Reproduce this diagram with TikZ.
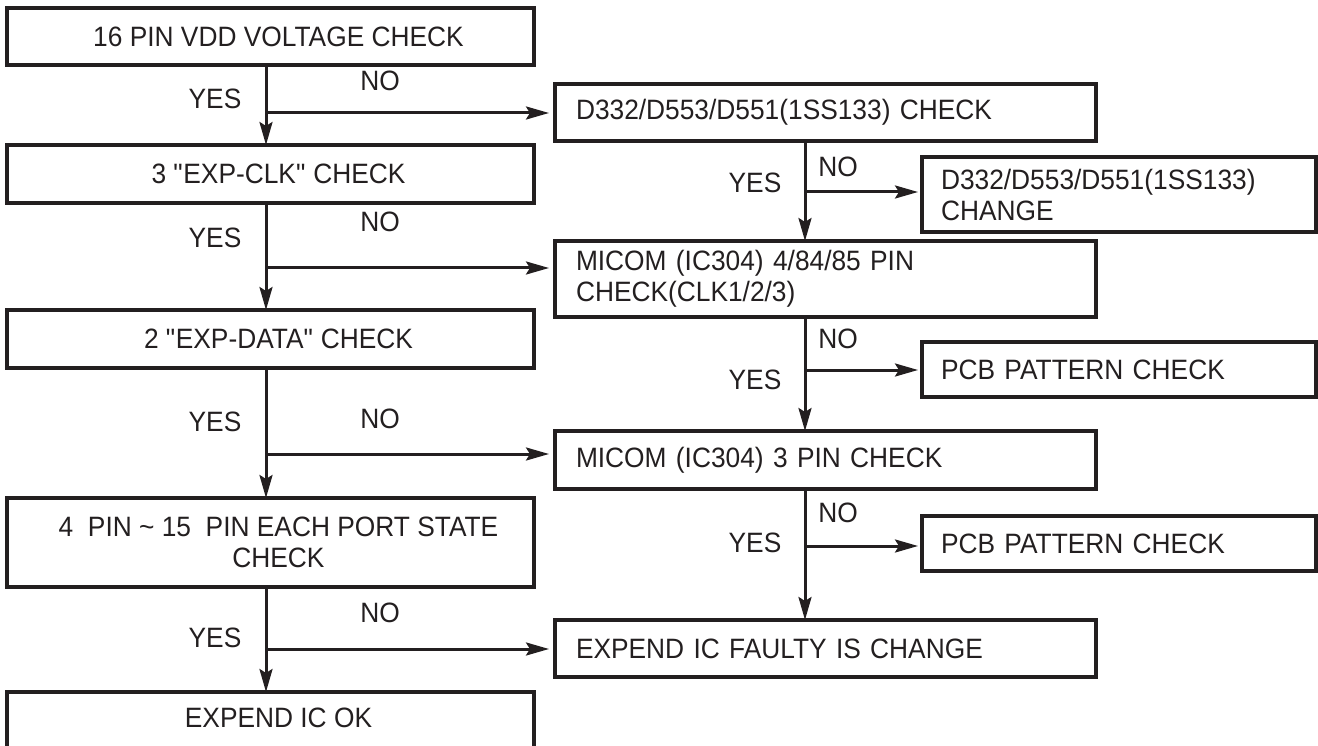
\documentclass[tikz,border=0pt]{standalone}
\usepackage{fontspec}
\setmainfont{Liberation Sans}[FakeStretch=0.94]
\usetikzlibrary{arrows.meta,calc}
\definecolor{ink}{HTML}{231F20}
\begin{document}
\begin{tikzpicture}[x=1pt,y=-1pt,
  every node/.style={font=\fontsize{28}{31}\selectfont, text=ink},
  box/.style={draw=ink, line width=3.4pt, inner sep=0pt, outer sep=0pt},
  lbox/.style={box, minimum width=527pt},
  rbox/.style={box, inner xsep=21pt, text width=499pt, align=left},
  fbox/.style={box, inner xsep=19pt, text width=356pt, align=left},
  arr/.style={draw=ink, line width=3pt, -{Stealth[length=23pt,width=13pt,inset=4pt]}},
  lab/.style={inner sep=0pt}
]
\useasboundingbox (0,0) rectangle (1318,746);

% left column
\node[lbox, minimum height=57pt, label={[xshift=8pt]center:16 PIN VDD VOLTAGE CHECK}] (B1) at (270.5,36.5) {};
\node[lbox, minimum height=58pt, label={[xshift=8pt]center:3 \textquotedbl EXP-CLK\textquotedbl{} CHECK}] (B2) at (270.5,174) {};
\node[lbox, minimum height=58pt, label={[xshift=8pt]center:2 \textquotedbl EXP-DATA\textquotedbl{} CHECK}] (B3) at (270.5,339) {};
\node[lbox, minimum height=89pt, label={[xshift=8pt,align=center]center:{4\ \ PIN \textasciitilde{} 15\ \ PIN EACH PORT STATE\\CHECK}}] (B4) at (270.5,542.5) {};
\node[lbox, minimum height=58pt, label={[xshift=8pt,yshift=3pt]center:EXPEND IC OK}] (B5) at (270.5,721) {};

% middle column
\node[rbox, minimum height=57pt] (R1) at (825.5,112.5) {D332/D553/D551(1SS133) CHECK};
\node[rbox, minimum height=76pt] (R2) at (825.5,279) {MICOM (IC304) 4/84/85 PIN\\CHECK(CLK1/2/3)};
\node[rbox, minimum height=58pt] (R3) at (825.5,460) {MICOM (IC304) 3 PIN CHECK};
\node[rbox, minimum height=57pt] (R4) at (825.5,648.5) {EXPEND IC FAULTY IS CHANGE};

% right column
\node[fbox, minimum height=75pt] (F1) at (1119,194.5) {D332/D553/D551(1SS133)\\CHANGE};
\node[fbox, minimum height=55pt] (F2) at (1119,369.5) {PCB PATTERN CHECK};
\node[fbox, minimum height=55pt] (F3) at (1119,543.5) {PCB PATTERN CHECK};

% spines
\coordinate (s) at (266,0);
\coordinate (t) at (805,0);
\draw[arr] (s |- B1.south) -- (s |- B2.north);
\draw[arr] (s |- B2.south) -- (s |- B3.north);
\draw[arr] (s |- B3.south) -- (s |- B4.north);
\draw[arr] (s |- B4.south) -- (s |- B5.north);
\draw[arr] (t |- R1.south) -- (t |- R2.north);
\draw[arr] (t |- R2.south) -- (t |- R3.north);
\draw[arr] (t |- R3.south) -- (t |- R4.north);

% branches
\coordinate (j1) at (266,113);
\coordinate (j2) at (266,268);
\coordinate (j3) at (266,454);
\coordinate (j4) at (266,649);
\draw[arr, shorten >=6pt] (j1) -- (j1 -| R1.west);
\draw[arr, shorten >=6pt] (j2) -- (j2 -| R2.west);
\draw[arr, shorten >=6pt] (j3) -- (j3 -| R3.west);
\draw[arr, shorten >=6pt] (j4) -- (j4 -| R4.west);
\coordinate (k1) at (805,192);
\coordinate (k2) at (805,370);
\coordinate (k3) at (805,546);
\draw[arr, shorten >=4pt] (k1) -- (k1 -| F1.west);
\draw[arr, shorten >=4pt] (k2) -- (k2 -| F2.west);
\draw[arr, shorten >=4pt] (k3) -- (k3 -| F3.west);

% labels
\node[lab] (y1) at (215,99) {YES};
\node[lab] (n1) at (380,81) {NO};
\node[lab] (y2) at (215,238) {YES};
\node[lab] (n2) at (380,222) {NO};
\node[lab] (y3) at (215,422) {YES};
\node[lab] (n3) at (380,419) {NO};
\node[lab] (y4) at (215,638) {YES};
\node[lab] (n4) at (380,613) {NO};
\node[lab] (y5) at (755,183) {YES};
\node[lab] (n5) at (838,167) {NO};
\node[lab] (y6) at (755,380) {YES};
\node[lab] (n6) at (838,339) {NO};
\node[lab] (y7) at (755,543) {YES};
\node[lab] (n7) at (838,513) {NO};
\end{tikzpicture}
\end{document}
